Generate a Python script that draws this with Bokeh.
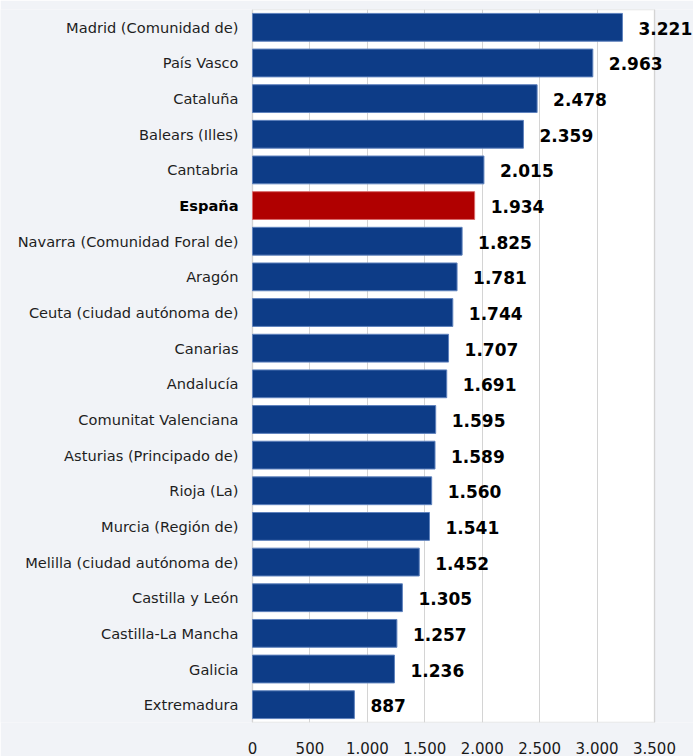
from bokeh.plotting import figure
from bokeh.models import ColumnDataSource, FactorRange, BoxAnnotation
from bokeh.core.properties import value, field
from bokeh.embed import file_html
from bokeh.resources import INLINE

regions = ["Madrid (Comunidad de)", "País Vasco", "Cataluña", "Balears (Illes)", "Cantabria",
           "España", "Navarra (Comunidad Foral de)", "Aragón", "Ceuta (ciudad autónoma de)",
           "Canarias", "Andalucía", "Comunitat Valenciana", "Asturias (Principado de)",
           "Rioja (La)", "Murcia (Región de)", "Melilla (ciudad autónoma de)",
           "Castilla y León", "Castilla-La Mancha", "Galicia", "Extremadura"]
values = [3221, 2963, 2478, 2359, 2015, 1934, 1825, 1781, 1744, 1707, 1691, 1595, 1589,
          1560, 1541, 1452, 1305, 1257, 1236, 887]
highlight = "España"
tick_values = [0, 500, 1000, 1500, 2000, 2500, 3000, 3500]


def fmt(v):
    return f"{v:,}".replace(",", ".")


# layout (pixels)
W, H = 693, 756
plot_left_px, plot_right_px = 252, 654
x_min, x_max = tick_values[0], tick_values[-1]
ppu = (plot_right_px - plot_left_px) / (x_max - x_min)
x_start = x_min - plot_left_px / ppu
x_end = x_max + (W - plot_right_px) / ppu

colors = ["#b00000" if r == highlight else "#0d3c87" for r in regions]
edges = ["#d86a6a" if r == highlight else "#5f82bd" for r in regions]
fonts = ["bold" if r == highlight else "normal" for r in regions]
lab_colors = ["#000000" if r == highlight else "#1e1e1e" for r in regions]

src = ColumnDataSource(dict(
    region=regions, value=values, color=colors, edge=edges,
    label=[fmt(v) for v in values], font=fonts, labcol=lab_colors,
    zero=[0] * len(values)))

p = figure(width=W, height=H, output_backend="svg", toolbar_location=None,
           y_range=FactorRange(*reversed(regions), range_padding=0),
           x_range=(x_start, x_end),
           min_border_left=0, min_border_right=0, min_border_top=9, min_border_bottom=33)

p.add_layout(BoxAnnotation(left=x_min, right=x_max, fill_color="#ffffff", fill_alpha=1,
                           line_color="#a8a8a8", line_width=1.5, level="image"))

p.hbar(y="region", right="value", height=0.78, source=src,
       fill_color="color", line_color="edge", line_width=1)

p.text(x="value", y="region", text="label", source=src,
       x_offset=16, y_offset=1, text_align="left", text_baseline="middle",
       text_font=value("DejaVu Sans"), text_font_size="17px",
       text_font_style="bold", text_color="#000000")

p.text(x="zero", y="region", text="region", source=src,
       x_offset=-14, text_align="right", text_baseline="middle",
       text_font=value("DejaVu Sans"), text_font_size="14.6px",
       text_font_style=field("font"), text_color="labcol")

p.yaxis.visible = False

p.xaxis.ticker = tick_values
p.xaxis.major_label_overrides = {v: fmt(v) for v in tick_values}
p.xaxis.major_label_text_font = "DejaVu Sans"
p.xaxis.major_label_text_font_size = "15px"
p.xaxis.major_label_text_color = "#1a1a1a"
p.xaxis.major_label_standoff = 13
p.xaxis.axis_line_color = None
p.xaxis.major_tick_line_color = None
p.xaxis.minor_tick_line_color = None

p.xgrid.grid_line_color = "#d4d4d4"
p.xgrid.ticker = tick_values
p.ygrid.grid_line_color = None

p.outline_line_color = None
p.background_fill_color = "#f1f3f7"
p.border_fill_color = "#f1f3f7"

open("out.html", "w").write(file_html(p, INLINE))
